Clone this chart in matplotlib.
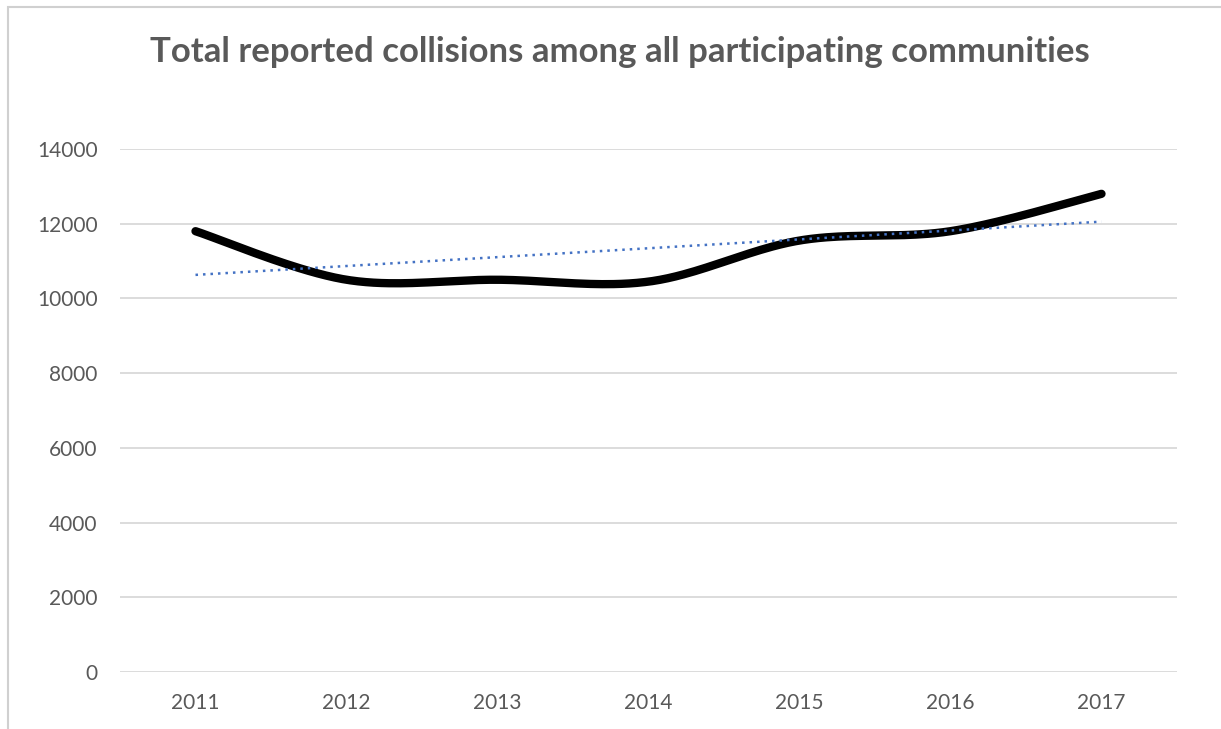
import numpy as np
import matplotlib.pyplot as plt
from matplotlib.patches import Rectangle

years = [2011, 2012, 2013, 2014, 2015, 2016, 2017]
collisions = [11800, 10500, 10500, 10450, 11550, 11800, 12800]
y_ticks = [0, 2000, 4000, 6000, 8000, 10000, 12000, 14000]
title = "Total reported collisions among all participating communities"


def smooth_line(xs, ys, steps=40):
    # Excel-style smoothing: Catmull-Rom as cubic Bezier segments
    pts = np.column_stack([xs, ys]).astype(float)
    pts = np.vstack([pts[0], pts, pts[-1]])
    out = []
    t = np.linspace(0, 1, steps)[:, None]
    for i in range(1, len(pts) - 2):
        p0, p1, p2, p3 = pts[i - 1], pts[i], pts[i + 1], pts[i + 2]
        c1 = p1 + (p2 - p0) / 6
        c2 = p2 - (p3 - p1) / 6
        seg = ((1 - t) ** 3) * p1 + 3 * ((1 - t) ** 2) * t * c1 + 3 * (1 - t) * t ** 2 * c2 + t ** 3 * p2
        out.append(seg if i == 1 else seg[1:])
    seg = np.vstack(out)
    return seg[:, 0], seg[:, 1]


plt.rcParams['font.family'] = ['Lato', 'DejaVu Sans']

fig = plt.figure(figsize=(12.21, 7.29), dpi=100)
fig.patches.append(Rectangle((8 / 1221, -0.1), 1.2, (729 - 7) / 729 + 0.1,
                             transform=fig.transFigure, fill=False,
                             edgecolor='#d0d0d0', linewidth=1.5))

ax = fig.add_axes([120 / 1221, (729 - 672) / 729, 1057 / 1221, 523 / 729])

idx = np.arange(len(years))
sx, sy = smooth_line(idx, collisions)
ax.plot(sx, sy, color='black', linewidth=6, solid_capstyle='round', zorder=3)

slope, icpt = np.polyfit(idx, collisions, 1)
ax.plot(idx, slope * idx + icpt, color='#4472C4', linewidth=1.8,
        linestyle=(0, (1, 2)), zorder=4)

ax.set_xlim(-0.5, len(years) - 0.5)
ax.set_ylim(0, 14000)
ax.set_yticks(y_ticks)
ax.set_xticks(idx)
ax.set_xticklabels([str(y) for y in years])
ax.grid(axis='y', color='#d9d9d9', linewidth=1.3)
ax.set_axisbelow(True)
for s in ax.spines.values():
    s.set_visible(False)
ax.tick_params(length=0, labelsize=15, colors='#595959')
ax.tick_params(axis='y', pad=16)
ax.tick_params(axis='x', pad=15)

fig.text(620 / 1221, 1 - 52 / 729, title, ha='center', va='center',
         fontsize=25, fontweight='bold', color='#595959')

fig.savefig('out.png', dpi=100)
